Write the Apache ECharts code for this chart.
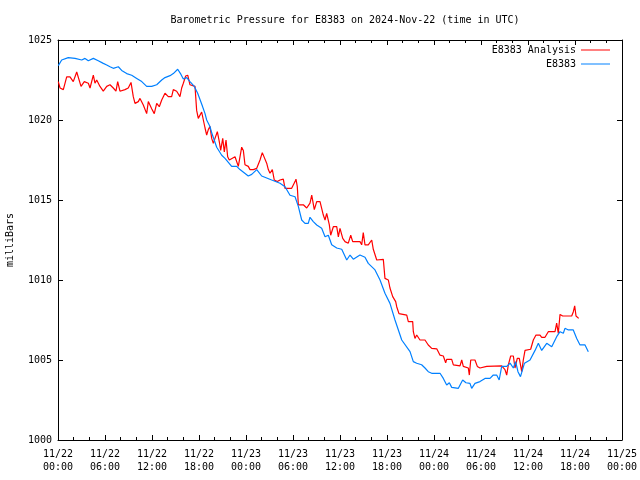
<!DOCTYPE html>
<html>
<head>
<meta charset="utf-8">
<script src="https://cdn.jsdelivr.net/npm/echarts@6/dist/echarts.min.js"></script>
<style>html,body{margin:0;padding:0;background:#fff}#c{width:640px;height:480px}</style>
</head>
<body>
<div id="c"></div>
<script>
// Hours since 2024-11-22 00:00 UTC
const analysisTime = [0.04,0.26,0.68,1.11,1.53,1.95,2.39,2.59,2.94,3.36,3.87,4.09,4.51,4.72,4.94,5.36,5.78,6.22,6.64,7.06,7.40,7.62,7.91,8.55,8.97,9.32,9.61,9.83,10.25,10.47,10.89,11.32,11.53,11.96,12.29,12.6,12.93,13.24,13.66,14.08,14.51,14.72,15.15,15.57,15.79,16.0,16.3,16.56,16.85,17.07,17.49,17.7,17.91,18.13,18.34,18.55,18.77,18.98,19.19,19.4,19.62,19.83,20.04,20.34,20.59,20.77,21.03,21.23,21.45,21.66,21.87,22.6,22.81,23.02,23.45,23.66,23.87,24.29,24.51,24.93,25.37,25.57,25.79,26.08,26.3,26.64,26.85,27.06,27.36,27.61,28.0,28.34,28.76,28.98,29.83,30.26,30.38,30.55,30.68,31.32,31.75,32.17,32.39,32.59,32.72,33.03,33.45,33.87,34.09,34.3,34.64,34.81,35.15,35.58,35.79,36.0,36.35,36.64,37.06,37.37,37.62,38.55,38.77,38.97,39.19,39.61,39.83,40.05,40.25,40.47,40.69,41.53,41.74,42.17,42.38,42.73,43.11,43.24,43.53,44.52,44.72,45.28,45.36,45.57,45.79,46.21,46.85,47.27,47.71,48.35,48.77,49.19,49.49,49.62,50.26,50.47,50.68,51.32,51.54,51.74,52.38,52.51,52.69,53.23,53.53,53.87,54.73,56.64,57.06,57.28,57.49,57.79,58.13,58.34,58.63,58.89,59.2,59.4,59.62,60.34,60.68,61.02,61.53,61.75,62.17,62.59,63.45,63.66,63.87,64.09,64.43,65.58,65.79,65.96,66.13,66.47];
const analysisPressure = [1022.4,1022.0,1021.9,1022.7,1022.7,1022.4,1023.0,1023.0,1022.1,1022.4,1022.3,1022.0,1022.8,1022.3,1022.5,1022.1,1021.8,1022.1,1022.2,1022.0,1021.8,1022.4,1021.8,1021.9,1022.0,1022.35,1021.46,1021.04,1021.15,1021.35,1020.94,1020.4,1021.15,1020.7,1020.4,1021.04,1020.83,1021.25,1021.67,1021.46,1021.46,1021.9,1021.8,1021.46,1022.0,1022.3,1022.75,1022.8,1022.2,1022.1,1022.1,1020.6,1020.1,1020.0,1020.5,1020.4,1019.5,1019.06,1019.4,1019.6,1018.85,1018.54,1018.85,1019.27,1018.65,1018.1,1018.85,1018.0,1018.75,1017.7,1017.5,1017.7,1017.8,1017.1,1018.3,1018.1,1017.2,1017.1,1016.9,1016.9,1016.98,1016.9,1017.5,1017.96,1017.9,1017.3,1016.9,1016.67,1016.9,1016.25,1016.15,1016.25,1016.3,1015.73,1015.73,1016.15,1016.3,1015.83,1014.7,1014.7,1014.5,1014.8,1015.3,1015.3,1014.4,1014.9,1014.9,1014.06,1013.75,1014.17,1013.44,1012.8,1013.33,1013.33,1012.7,1013.23,1012.6,1012.4,1012.3,1012.8,1012.4,1012.4,1012.2,1012.96,1012.2,1012.2,1012.08,1012.5,1011.92,1011.9,1011.25,1011.29,1010.1,1010.0,1009.5,1008.96,1008.65,1008.33,1007.9,1007.8,1007.4,1007.4,1006.77,1006.35,1006.56,1006.25,1006.25,1005.94,1005.73,1005.7,1005.3,1005.25,1004.83,1005.04,1005.04,1004.7,1004.6,1004.63,1005.0,1004.6,1004.5,1004.06,1005.0,1005.0,1004.6,1004.5,1004.6,1004.63,1004.4,1004.06,1004.7,1005.25,1005.25,1004.5,1005.1,1005.1,1004.27,1005.0,1005.6,1005.67,1006.25,1006.56,1006.56,1006.42,1006.42,1006.77,1006.77,1007.3,1006.67,1007.85,1007.75,1007.75,1008.02,1008.38,1007.75,1007.6];

const stationTime = [0.04,0.47,1.31,2.17,3.03,3.45,3.87,4.51,5.14,5.78,6.22,6.64,7.06,7.70,8.13,8.77,9.41,10.05,10.69,11.32,11.96,12.6,13.24,13.66,14.3,14.72,15.28,15.7,16.0,16.43,16.85,17.4,17.83,18.34,18.77,18.98,19.4,19.62,20.26,20.9,21.32,22.17,22.81,23.23,24.29,24.73,25.37,26.0,27.28,28.34,28.98,29.62,30.26,30.68,31.11,31.53,31.95,32.17,32.59,33.03,33.66,34.09,34.51,34.94,35.58,36.22,36.86,37.28,37.70,38.55,39.19,39.61,40.47,41.11,41.74,42.38,43.02,43.88,44.94,45.36,45.79,46.42,46.85,47.27,47.71,48.77,49.19,49.62,49.96,50.26,51.11,51.32,51.66,52.08,52.59,52.81,53.23,53.87,54.51,55.15,55.57,56.0,56.32,56.64,57.28,57.71,58.13,58.42,58.72,59.04,59.55,60.26,60.9,61.32,61.75,62.39,63.03,63.66,64.09,64.51,64.72,65.15,65.78,66.22,66.64,67.28,67.7];
const stationPressure = [1023.4,1023.75,1023.9,1023.85,1023.75,1023.85,1023.7,1023.85,1023.7,1023.54,1023.44,1023.33,1023.23,1023.33,1023.1,1022.9,1022.8,1022.6,1022.4,1022.1,1022.1,1022.2,1022.5,1022.65,1022.77,1022.9,1023.17,1022.85,1022.56,1022.65,1022.4,1022.1,1021.67,1021.0,1020.4,1020.0,1019.6,1019.2,1018.3,1017.8,1017.6,1017.1,1017.1,1016.9,1016.5,1016.6,1016.9,1016.5,1016.25,1016.05,1015.83,1015.3,1015.2,1014.6,1013.75,1013.54,1013.54,1013.92,1013.65,1013.44,1013.23,1012.7,1012.8,1012.2,1012.0,1011.92,1011.25,1011.56,1011.3,1011.56,1011.42,1011.04,1010.63,1010.0,1009.17,1008.54,1007.5,1006.25,1005.52,1004.9,1004.8,1004.7,1004.5,1004.27,1004.17,1004.17,1003.85,1003.44,1003.58,1003.29,1003.23,1003.33,1003.75,1003.58,1003.54,1003.23,1003.54,1003.65,1003.85,1003.85,1004.06,1004.06,1003.75,1004.6,1004.6,1004.8,1004.5,1004.9,1004.27,1003.96,1004.8,1005.0,1005.6,1006.04,1005.6,1006.04,1005.83,1006.46,1006.77,1006.67,1006.98,1006.88,1006.88,1006.35,1005.94,1005.94,1005.52];

const xTickLabels = ['11/22\n00:00','11/22\n06:00','11/22\n12:00','11/22\n18:00','11/23\n00:00','11/23\n06:00','11/23\n12:00','11/23\n18:00','11/24\n00:00','11/24\n06:00','11/24\n12:00','11/24\n18:00','11/25\n00:00'];
const yTickLabels = ['1000','1005','1010','1015','1020','1025'];
const seriesNames = ['E8383 Analysis','E8383'];

const zip = (a, b) => a.map((t, i) => [t, b[i]]);
const FONT = 'DejaVu Sans Mono';
const txt = {fontFamily: FONT, fontSize: 10, color: '#000'};

const chart = echarts.init(document.getElementById('c'), null, {renderer: 'canvas'});
const baseX = {
  type: 'value', min: 0, max: 72, interval: 6,
  axisLine: {show: true, onZero: false, lineStyle: {color: '#000', width: 1}},
  axisTick: {show: true, inside: true, length: 5, lineStyle: {color: '#000'}},
  minorTick: {show: true, splitNumber: 3, length: 3, lineStyle: {color: '#000'}},
  splitLine: {show: false}
};
const baseY = {
  type: 'value', min: 1000, max: 1025, interval: 5,
  axisLine: {show: true, onZero: false, lineStyle: {color: '#000', width: 1}},
  axisTick: {show: true, inside: true, length: 5, lineStyle: {color: '#000'}},
  splitLine: {show: false}
};
chart.setOption({
  animation: false,
  backgroundColor: '#fff',
  title: {
    text: 'Barometric Pressure for E8383 on 2024-Nov-22 (time in UTC)',
    left: 340, textAlign: 'center', top: 10,
    textStyle: {fontFamily: FONT, fontSize: 10, fontWeight: 'normal', color: '#000'}
  },
  legend: [
    {data: [seriesNames[0]], right: 30, top: 45, padding: 0, align: 'right', icon: 'rect', itemWidth: 29, itemHeight: 1, itemGap: 0, textStyle: txt},
    {data: [seriesNames[1]], right: 30, top: 59, padding: 0, align: 'right', icon: 'rect', itemWidth: 29, itemHeight: 1, itemGap: 0, textStyle: txt}
  ],
  grid: {left: 58, right: 18, top: 40, bottom: 40, containLabel: false, outerBoundsMode: 'none'},
  xAxis: [
    Object.assign({}, baseX, {position: 'bottom',
      axisLabel: {margin: 8, lineHeight: 13, fontFamily: FONT, fontSize: 10, color: '#000',
        formatter: v => xTickLabels[Math.round(v / 6)]}}),
    Object.assign({}, baseX, {position: 'top', axisLabel: {show: false}})
  ],
  yAxis: [
    Object.assign({}, baseY, {position: 'left', name: 'milliBars', nameLocation: 'middle', nameGap: 43, nameRotate: 90,
      nameTextStyle: {fontFamily: FONT, fontSize: 10, color: '#000'},
      axisLabel: {margin: 6, fontFamily: FONT, fontSize: 10, color: '#000',
        formatter: v => yTickLabels[Math.round((v - 1000) / 5)]}}),
    Object.assign({}, baseY, {position: 'right', axisLabel: {show: false}})
  ],
  series: [
    {name: seriesNames[0], type: 'line', data: zip(analysisTime, analysisPressure), showSymbol: false, symbol: 'none',
      color: '#ff0000', lineStyle: {color: '#ff0000', width: 1.2}, xAxisIndex: 0, yAxisIndex: 0},
    {name: seriesNames[1], type: 'line', data: zip(stationTime, stationPressure), showSymbol: false, symbol: 'none',
      color: '#0080ff', lineStyle: {color: '#0080ff', width: 1.2}, xAxisIndex: 0, yAxisIndex: 0}
  ]
});
</script>
</body>
</html>
